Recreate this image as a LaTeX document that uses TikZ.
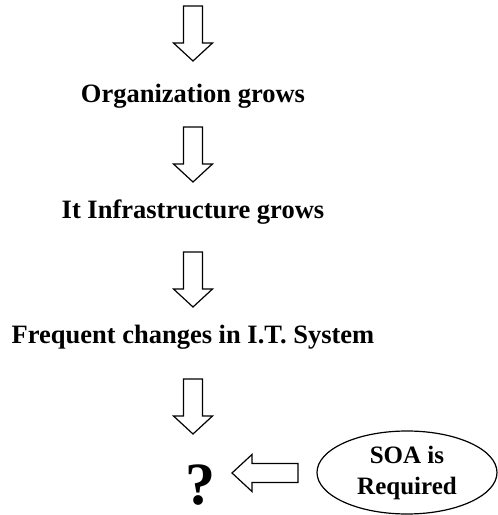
\documentclass[tikz,border=0pt]{standalone}
\usepackage{fontspec}
\setmainfont{Liberation Serif}
\usetikzlibrary{shapes.geometric}
\tikzset{
    label text/.style={font=\fontsize{26.5}{31}\selectfont\bfseries, inner sep=0pt},
    pics/hollow down/.style={code={
        \draw[line width=1.2pt, line join=miter] (-9.5,0) -- (-9.5,-37) -- (-19.5,-37) -- (0,-55) -- (19.5,-37) -- (9.5,-37) -- (9.5,0) -- cycle;
    }},
    pics/hollow left/.style={code={
        \draw[line width=1.2pt, line join=miter] (0,0) -- (20,18.5) -- (20,9.5) -- (66,9.5) -- (66,-9.5) -- (20,-9.5) -- (20,-18.5) -- cycle;
    }},
}
\begin{document}
\begin{tikzpicture}[x=1pt, y=1pt]
    \useasboundingbox (0,0) rectangle (498,515);
    \pic at (193,509) {hollow down}; %% 1
    \node[label text] (org) at (193,419) {Organization grows};
    \pic at (193,388) {hollow down}; %% 2
    \node[label text] (infra) at (193,303) {It Infrastructure grows};
    \pic at (193,263) {hollow down}; %% 3
    \node[label text] (freq) at (193,178) {Frequent changes in I.T. System};
    \pic at (193,136) {hollow down}; %% 4
    \node[font=\fontsize{60}{60}\selectfont\bfseries, inner sep=0pt, anchor=base] (quest) at (200,10) {?};
    \pic at (232,42) {hollow left}; %% left
    \node[draw, ellipse, line width=1.2pt, minimum width=180, minimum height=83, inner sep=0pt] (soa) at (407,42.5) {};
    \node[font=\fontsize{25}{31}\selectfont\bfseries, align=center, inner sep=0pt] (soatext) at (soa.center) {SOA is\\Required};
\end{tikzpicture}
\end{document}
